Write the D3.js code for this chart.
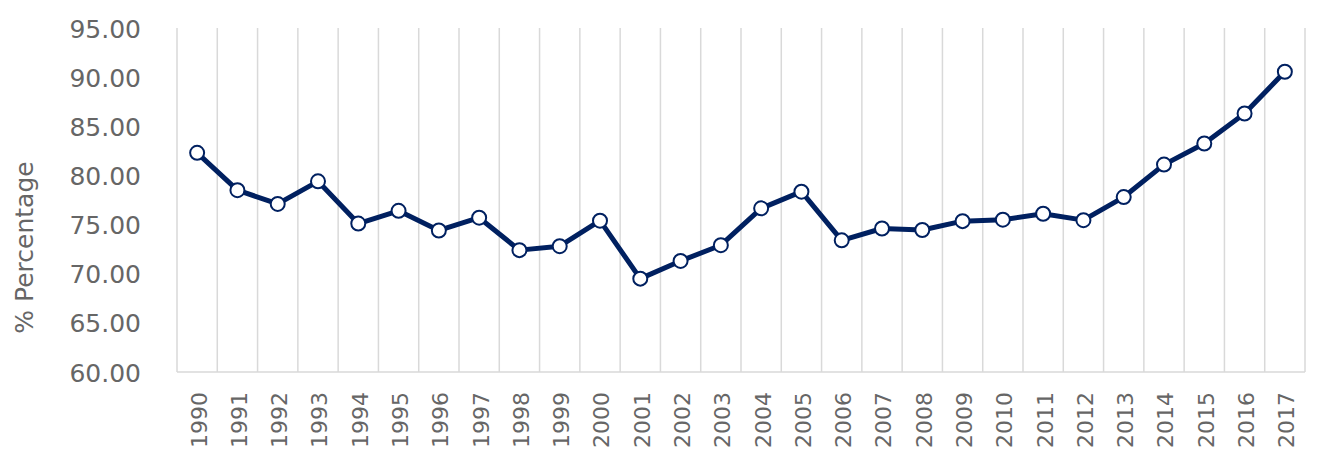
<!DOCTYPE html>
<html>
<head>
<meta charset="utf-8">
<script src="https://cdn.jsdelivr.net/npm/d3@7"></script>
<style>
  html, body { margin: 0; padding: 0; background: #fff; }
  svg { display: block; }
  text { font-family: "DejaVu Sans", sans-serif; fill: #666666; }
</style>
</head>
<body>
<script>
const years = ["1990","1991","1992","1993","1994","1995","1996","1997","1998","1999","2000","2001","2002","2003","2004","2005","2006","2007","2008","2009","2010","2011","2012","2013","2014","2015","2016","2017"];
const values = [82.3,78.5,77.1,79.4,75.1,76.4,74.4,75.7,72.4,72.8,75.4,69.5,71.3,72.9,76.65,78.35,73.4,74.6,74.45,75.35,75.5,76.1,75.45,77.8,81.1,83.25,86.3,90.55];
const yTicks = [60,65,70,75,80,85,90,95];
const yTitle = "% Percentage";

(function () {
const W = 1328, H = 473;
const pLeft = 177, pRight = 1305, pTop = 28, pBottom = 372;
const FONT = '"DejaVu Sans", sans-serif';
const WEIGHT = 400;
const TXT = "#666666";

const svg = d3.select("body").append("svg").attr("width", W).attr("height", H);

const x = d3.scaleBand().domain(years).range([pLeft, pRight]).paddingInner(0).paddingOuter(0);
const y = d3.scaleLinear().domain([60, 95]).range([pBottom, pTop]);

const bounds = years.map(d => x(d)).concat([pRight]);
svg.append("g").selectAll("line").data(bounds.slice(1)).join("line")
  .attr("x1", d => d).attr("x2", d => d)
  .attr("y1", pTop).attr("y2", pBottom)
  .attr("stroke", "#d9d9d9").attr("stroke-width", 1.5);

svg.append("line").attr("x1", pLeft).attr("x2", pLeft).attr("y1", pTop).attr("y2", pBottom)
  .attr("stroke", "#d9d9d9").attr("stroke-width", 1.5);
svg.append("line").attr("x1", pLeft).attr("x2", pRight).attr("y1", pBottom).attr("y2", pBottom)
  .attr("stroke", "#d9d9d9").attr("stroke-width", 1.5);

const yAxis = d3.axisLeft(y).tickValues(yTicks).tickFormat(d3.format(".2f")).tickSize(0).tickPadding(36);
const gy = svg.append("g").attr("transform", `translate(${pLeft},0)`).call(yAxis);
gy.select(".domain").remove();
gy.selectAll("text").style("font-size", "25px").style("font-weight", WEIGHT).attr("fill", TXT)
  .style("font-family", FONT).attr("dy", "0.36em");

const xAxis = d3.axisBottom(x).tickSize(0).tickPadding(0);
const gx = svg.append("g").attr("transform", `translate(0,${pBottom})`).call(xAxis);
gx.select(".domain").remove();
gx.selectAll("text")
  .style("font-size", "22px").style("font-weight", WEIGHT).attr("fill", TXT)
  .style("font-family", FONT)
  .attr("text-anchor", "end")
  .attr("dy", "0.38em")
  .attr("transform", "translate(1,20) rotate(-90)")
  .attr("x", 0).attr("y", 0);

svg.append("text")
  .attr("transform", `translate(33,247.5) rotate(-90)`)
  .attr("text-anchor", "middle")
  .style("font-size", "25px").style("font-weight", WEIGHT)
  .style("font-family", FONT)
  .attr("fill", TXT)
  .text(yTitle);

const cx = d => x(d) + x.bandwidth() / 2;
const line = d3.line().x((d, i) => cx(years[i])).y(d => y(d));
svg.append("path").datum(values).attr("d", line)
  .attr("fill", "none").attr("stroke", "#002060").attr("stroke-width", 5)
  .attr("stroke-linejoin", "round");

svg.append("g").selectAll("circle").data(values).join("circle")
  .attr("cx", (d, i) => cx(years[i])).attr("cy", d => y(d))
  .attr("r", 7).attr("fill", "#fff").attr("stroke", "#002060").attr("stroke-width", 2);
})();
</script>
</body>
</html>
